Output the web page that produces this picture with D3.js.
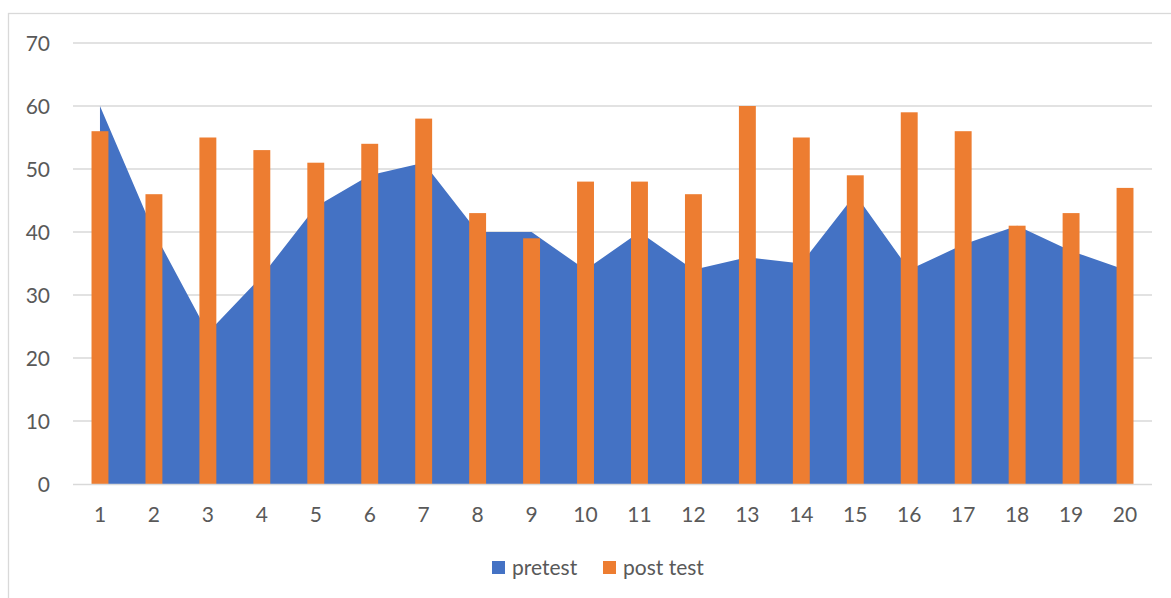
<!DOCTYPE html>
<html>
<head>
<meta charset="utf-8">
<script src="https://cdn.jsdelivr.net/npm/d3@7"></script>
<style>
  html, body { margin: 0; padding: 0; background: #ffffff; }
  svg { display: block; }
  text { font-family: Lato, "Open Sans", sans-serif; fill: #595959; }
</style>
</head>
<body>
<svg id="chart" width="1171" height="598"></svg>
<script>
const categories = ["1","2","3","4","5","6","7","8","9","10","11","12","13","14","15","16","17","18","19","20"];
const pretest = [60,40,24,33,44,49,51,40,40,34,40,34,36,35,46,34,38,41,37,34];
const postTest = [56,46,55,53,51,54,58,43,39,48,48,46,60,55,49,59,56,41,43,47];
const yTicks = [0,10,20,30,40,50,60,70];
const seriesNames = ["pretest", "post test"];
const colors = ["#4472C4", "#ED7D31"];

const svg = d3.select("#chart");
const W = 1171, H = 598;
const plot = { left: 73, right: 1152, top: 43, bottom: 484 };

// chart border (cut off at right and bottom in the reference)
svg.append("rect")
  .attr("x", 8.5).attr("y", 13.5)
  .attr("width", W + 20).attr("height", H + 20)
  .attr("fill", "none").attr("stroke", "#d9d9d9").attr("stroke-width", 1.3);

const x = d3.scaleBand().domain(categories).range([plot.left, plot.right]).padding(0);
const y = d3.scaleLinear().domain([0, 70]).range([plot.bottom, plot.top]);
const cx = d => x(d) + x.bandwidth() / 2;

// gridlines
svg.append("g").selectAll("line").data(yTicks.filter(t => t > 0)).join("line")
  .attr("x1", plot.left).attr("x2", plot.right)
  .attr("y1", d => y(d)).attr("y2", d => y(d))
  .attr("stroke", "#d9d9d9").attr("stroke-width", 1.3);

// y tick labels
svg.append("g").selectAll("text").data(yTicks).join("text")
  .attr("x", 50).attr("y", d => y(d))
  .attr("dy", "0.36em")
  .attr("text-anchor", "end")
  .attr("font-size", 21)
  .text(d => d);

// pretest area
const area = d3.area()
  .x((d, i) => cx(categories[i]))
  .y0(y(0))
  .y1(d => y(d));
svg.append("path")
  .datum(pretest)
  .attr("d", area)
  .attr("fill", colors[0]);

// post test bars
const barW = x.bandwidth() / 3.19;
svg.append("g").selectAll("rect").data(postTest).join("rect")
  .attr("x", (d, i) => cx(categories[i]) - barW / 2)
  .attr("y", d => y(d))
  .attr("width", barW)
  .attr("height", d => y(0) - y(d))
  .attr("fill", colors[1]);

// x axis line
svg.append("line")
  .attr("x1", plot.left).attr("x2", plot.right)
  .attr("y1", y(0) + 0.5).attr("y2", y(0) + 0.5)
  .attr("stroke", "#d9d9d9").attr("stroke-width", 1.3);

// x tick labels
svg.append("g").selectAll("text").data(categories).join("text")
  .attr("x", d => cx(d)).attr("y", 522)
  .attr("text-anchor", "middle")
  .attr("font-size", 21)
  .text(d => d);

// legend
const legendItems = [
  { name: seriesNames[0], color: colors[0], sx: 492, tx: 512 },
  { name: seriesNames[1], color: colors[1], sx: 603, tx: 623 }
];
const lg = svg.append("g");
lg.selectAll("rect").data(legendItems).join("rect")
  .attr("x", d => d.sx).attr("y", 561)
  .attr("width", 13).attr("height", 13)
  .attr("fill", d => d.color);
lg.selectAll("text").data(legendItems).join("text")
  .attr("x", d => d.tx).attr("y", 575)
  .attr("font-size", 21)
  .text(d => d.name);
</script>
</body>
</html>
